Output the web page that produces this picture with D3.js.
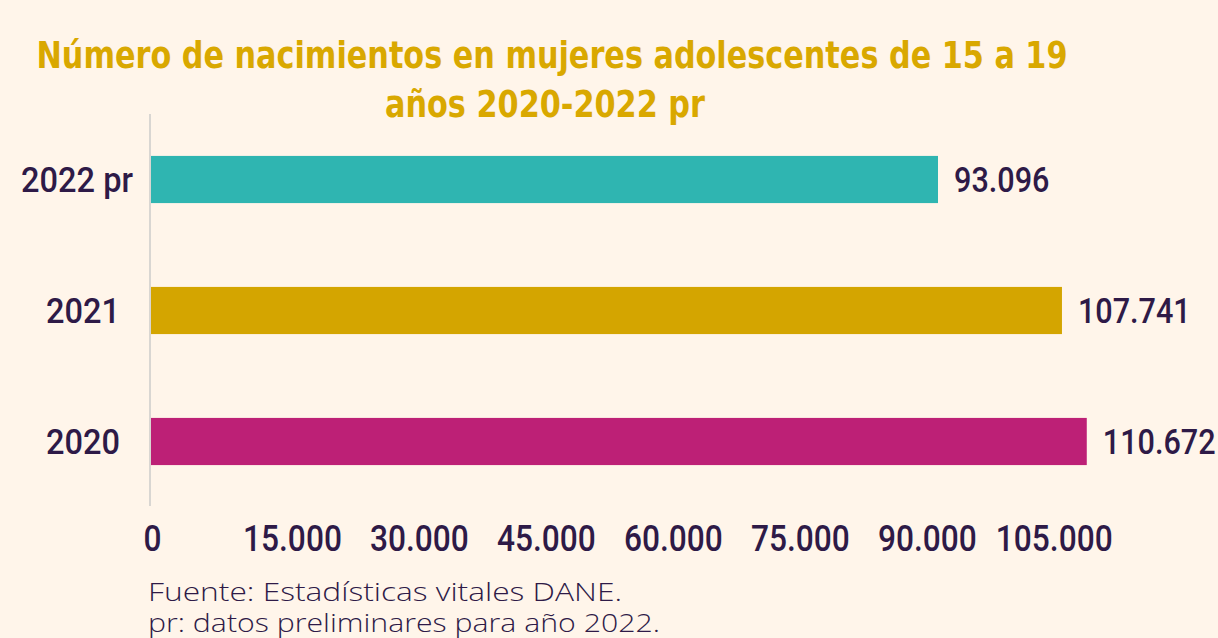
<!DOCTYPE html>
<html>
<head>
<meta charset="utf-8">
<script src="https://cdn.jsdelivr.net/npm/d3@7"></script>
<style>
  html, body { margin: 0; padding: 0; background: #fff5ea; }
  svg { display: block; }
</style>
</head>
<body>
<div id="chart"></div>
<script>

// data
const years = ["2022 pr", "2021", "2020"];
const births = [93096, 107741, 110672];
const barColors = ["#2fb5b1", "#d4a500", "#bd2076"];
const tickValues = [0, 15000, 30000, 45000, 60000, 75000, 90000, 105000];
const titleLines = ["Número de nacimientos en mujeres adolescentes de 15 a 19", "años 2020-2022 pr"];
const notes = ["Fuente: Estadísticas vitales DANE.", "pr: datos preliminares para año 2022."];

const width = 1218, height = 638;
const ink = "#2e1a47";

let svg = d3.select("#chart").append("svg")
    .attr("width", width)
    .attr("height", height)
    .style("background", "#fff5ea");

// bar end of 93.096 sits at ~938px
let x = d3.scaleLinear().domain([0, 93096]).range([150, 938]);

let y = d3.scaleBand()
    .domain(years)
    .range([114, 507])
    .paddingInner(0.64)
    .paddingOuter(0.32);

// squeeze a text horizontally, the source uses a condensed face
function condense(sel, k) {
    sel.each(function() {
        let len = this.getComputedTextLength();
        d3.select(this).attr("textLength", len * k).attr("lengthAdjust", "spacingAndGlyphs");
    });
}

// title
svg.selectAll(".title").data(titleLines).enter().append("text")
    .attr("class", "title")
    .attr("x", (d, i) => i == 0 ? 552 : 545)
    .attr("y", (d, i) => i == 0 ? 68 : 117)
    .attr("text-anchor", "middle")
    .attr("fill", "#d9a800")
    .style("font-family", "'DejaVu Sans Condensed', 'DejaVu Sans', sans-serif")
    .style("font-weight", "bold")
    .style("font-size", "38px")
    .attr("textLength", (d, i) => i == 0 ? 1031 : 320)
    .attr("lengthAdjust", "spacingAndGlyphs")
    .text(d => d);

// vertical axis line
svg.append("line")
    .attr("x1", x(0)).attr("x2", x(0))
    .attr("y1", 114).attr("y2", 506)
    .attr("stroke", "#d9d6d2")
    .attr("stroke-width", 2);

// bars
svg.selectAll(".bar").data(births).enter().append("rect")
    .attr("class", "bar")
    .attr("x", x(0) + 1)
    .attr("y", (d, i) => y(years[i]))
    .attr("width", d => x(d) - x(0) - 1)
    .attr("height", y.bandwidth())
    .attr("fill", (d, i) => barColors[i]);

// value labels, squeezed with a transform so they stay inside the frame
let fmt = d3.formatLocale({ decimal: ",", thousands: ".", grouping: [3], currency: ["$", ""] }).format(",");

svg.selectAll(".val").data(births).enter().append("text")
    .attr("class", "val")
    .attr("transform", (d, i) => `translate(${x(d) + 16},${y(years[i]) + y.bandwidth() / 2}) scale(0.85,1)`)
    .attr("dy", "0.36em")
    .attr("fill", ink)
    .style("font-family", "Roboto, sans-serif")
    .style("font-weight", 500)
    .style("font-size", "36px")
    .text(d => fmt(d));

// category labels
svg.selectAll(".cat").data(years).enter().append("text")
    .attr("class", "cat")
    .attr("x", d => d == "2022 pr" ? 133 : 120)
    .attr("y", d => y(d) + y.bandwidth() / 2)
    .attr("dy", "0.36em")
    .attr("text-anchor", "end")
    .attr("fill", ink)
    .style("font-family", "Roboto, sans-serif")
    .style("font-weight", 500)
    .style("font-size", "35px")
    .text(d => d)
    .call(condense, 0.93);

// x tick labels (labels sit a little right of the bar scale in the source)
let xAxis = svg.append("g")
    .attr("transform", "translate(0,551)")
    .call(d3.axisBottom(x).tickValues(tickValues).tickSize(0).tickFormat(d => fmt(d)));
xAxis.select(".domain").remove();
xAxis.selectAll("text")
    .attr("y", 0)
    .attr("dy", 0)
    .attr("dx", d => d == 0 ? 2 : 15)
    .attr("fill", ink)
    .style("font-family", "Roboto, sans-serif")
    .style("font-weight", 500)
    .style("font-size", "36px")
    .call(condense, 0.88);

// footnotes
svg.selectAll(".note").data(notes).enter().append("text")
    .attr("class", "note")
    .attr("x", 148)
    .attr("y", (d, i) => 601 + i * 31)
    .attr("fill", ink)
    .style("font-family", "'Open Sans', sans-serif")
    .style("font-weight", 300)
    .style("font-size", "25px")
    .attr("textLength", (d, i) => i == 0 ? 474 : 512)
    .attr("lengthAdjust", "spacingAndGlyphs")
    .text(d => d);

</script>
</body>
</html>
